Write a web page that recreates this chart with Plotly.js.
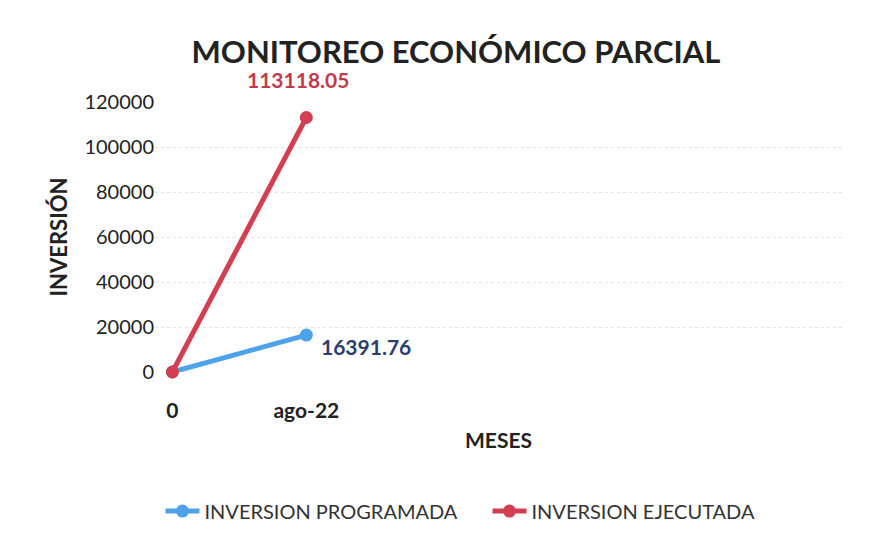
<!DOCTYPE html>
<html>
<head>
<meta charset="utf-8">
<script src="https://cdn.plot.ly/plotly-3.0.1.min.js"></script>
<style>html,body{margin:0;padding:0;background:#fff;}#chart{width:894px;height:544px;}</style>
</head>
<body>
<div id="chart"></div>
<script>
const categories = ["0", "ago-22"];
const programada = [0, 16391.76];
const ejecutada = [0, 113118.05];
const seriesNames = ["INVERSION PROGRAMADA", "INVERSION EJECUTADA"];
const yTicks = [0, 20000, 40000, 60000, 80000, 100000, 120000];

const blue = "#4ea2ea";
const red = "#d13f50";
const FONT = "Lato, 'Open Sans', sans-serif";

const traces = [
  {x: categories, y: programada, name: seriesNames[0], type: "scatter", mode: "lines+markers",
   line: {color: blue, width: 5}, marker: {color: blue, size: 13}, cliponaxis: false},
  {x: categories, y: ejecutada, name: seriesNames[1], type: "scatter", mode: "lines+markers",
   line: {color: red, width: 5}, marker: {color: red, size: 13}, cliponaxis: false}
];

const annotations = [
  {x: categories[1], y: ejecutada[1], xref: "x", yref: "y", text: ejecutada[1].toFixed(2),
   showarrow: false, xshift: -8, yshift: 38, font: {family: FONT, size: 21, color: "#c23a4e", weight: "bold"}},
  {x: categories[1], y: programada[1], xref: "x", yref: "y", text: programada[1].toFixed(2),
   showarrow: false, xanchor: "left", xshift: 13, yshift: -11, font: {family: FONT, size: 21, color: "#2c3d6e", weight: "bold"}}
];

const layout = {
  width: 894, height: 544,
  paper_bgcolor: "#fff", plot_bgcolor: "#fff",
  margin: {l: 155, r: 52, t: 102, b: 172},
  font: {family: FONT, color: "#222"},
  title: {text: "MONITOREO ECONÓMICO PARCIAL", x: 0.51, xanchor: "center", y: 0.905, yanchor: "middle",
          font: {family: FONT, size: 31, color: "#222", weight: "bold"}},
  xaxis: {type: "category", range: [-0.13, 5.0], showgrid: false, zeroline: false, showline: false,
          ticks: "outside", ticklen: 20, tickcolor: "rgba(0,0,0,0)",
          tickfont: {family: FONT, size: 21, color: "#222", weight: "bold"},
          title: {text: "MESES", standoff: 12, font: {family: FONT, size: 21, color: "#222", weight: "bold"}}},
  yaxis: {range: [0, 120000], tickvals: yTicks, ticktext: yTicks.map(String), showgrid: true,
          gridcolor: "#e4e4e4", griddash: "dot", gridwidth: 1, zeroline: false, showline: false,
          ticks: "", tickfont: {family: FONT, size: 20, color: "#222"},
          title: {text: "INVERSIÓN", standoff: 10, font: {family: FONT, size: 22, color: "#222", weight: "bold"}}},
  legend: {orientation: "h", x: 0.008, xanchor: "left", y: -0.515, yanchor: "middle",
           font: {family: FONT, size: 20, color: "#333"}, itemwidth: 34, entrywidth: 278, entrywidthmode: "pixels"},
  annotations: annotations,
  showlegend: true
};

Plotly.newPlot("chart", traces, layout, {displayModeBar: false, staticPlot: true});
</script>
</body>
</html>
